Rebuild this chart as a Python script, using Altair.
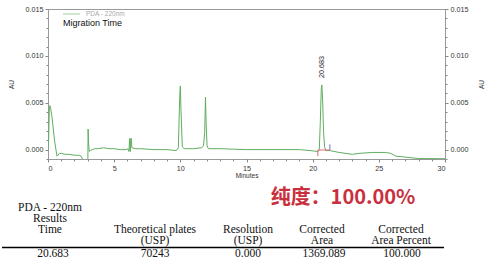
import altair as alt
import pandas as pd

# ---------------- data ----------------
TIME_MIN = [
    0.00, 0.05, 0.10, 0.14, 0.20, 0.30, 0.40, 0.50, 0.60, 0.68,
    0.75, 0.85, 1.00, 1.30, 1.60, 2.00, 2.20, 2.40, 2.50, 2.60,
    2.70, 2.90, 3.01, 3.03, 3.07, 3.12, 3.20, 3.50, 3.80, 4.20,
    4.60, 5.00, 5.50, 5.90, 6.05, 6.12, 6.16, 6.19, 6.22, 6.26,
    6.29, 6.34, 6.60, 7.00, 8.00, 9.00, 9.70, 9.85, 9.95, 10.00,
    10.05, 10.15, 10.30, 11.00, 11.60, 11.75, 11.84, 11.90, 11.95, 12.02,
    12.12, 13.00, 15.00, 17.00, 19.00, 19.80, 20.40, 20.50, 20.58, 20.65,
    20.69, 20.75, 20.82, 20.90, 21.00, 21.30, 22.00, 23.00, 23.50, 24.50,
    25.50, 25.90, 26.30, 27.00, 28.00, 30.00,
]
AU = [
    0.0000, 0.0012, 0.0042, 0.0047, 0.0044, 0.0035, 0.0022, 0.0009, 0.0000, -0.0007,
    -0.0006, -0.0004, -0.0004, -0.0005, -0.0005, -0.0006, -0.0006, -0.0006, -0.0007, -0.0010,
    -0.0013, -0.0016, -0.0016, 0.0022, 0.0006, -0.0002, -0.0001, 0.0001, 0.0001, 0.0002,
    0.0001, 0.0001, 0.0000, 0.0000, 0.0001, -0.0002, 0.0010, 0.0012, -0.0002, 0.0011,
    0.0012, 0.0002, 0.0001, 0.0001, 0.0000, 0.0000, -0.0001, 0.0002, 0.0055, 0.0068,
    0.0042, 0.0003, 0.0001, 0.0001, 0.0002, 0.0004, 0.0018, 0.0056, 0.0028, 0.0004,
    0.0001, 0.0001, 0.0000, 0.0000, 0.0000, -0.0001, -0.0002, 0.0000, 0.0030, 0.0065,
    0.0069, 0.0055, 0.0020, 0.0003, -0.0001, -0.0001, -0.0003, -0.0005, -0.0004, -0.0003,
    -0.0003, -0.0004, -0.0007, -0.0008, -0.00095, -0.00097,
]

X_MAJOR = [0, 5, 10, 15, 20, 25, 30]
X_MINOR = list(range(0, 31))
Y_MAJOR = [0.0, 0.005, 0.010, 0.015]
Y_MINOR = [-0.001, 0.0, 0.001, 0.002, 0.003, 0.004, 0.005, 0.006, 0.007, 0.008,
           0.009, 0.010, 0.011, 0.012, 0.013, 0.014, 0.015]

PEAK_TIME = [20.683]
PEAK_AU = [0.0069]
PEAK_LABEL = ["20.683"]

MARK_KIND = ["start", "start", "end"]
MARK_T1 = [20.39, 20.39, 21.30]
MARK_T2 = [20.39, 21.30, 21.30]
MARK_Y1 = [-0.00004, -0.00004, -0.00004]
MARK_Y2 = [-0.0007, -0.00004, 0.00056]

LEGEND_NAME = "PDA - 220nm"
PLOT_TITLE = "Migration Time"
PURITY = "纯度：100.00%"

TABLE_TITLE = ["PDA - 220nm", "Results"]
HEAD_1 = ["Time", "Theoretical plates", "Resolution", "Corrected", "Corrected"]
HEAD_2 = ["", "(USP)", "(USP)", "Area", "Area Percent"]
ROW_VALUES = ["20.683", "70243", "0.000", "1369.089", "100.000"]

# ---------------- layout (canvas pixels) ----------------
PL, PT, W, H = 48, 9, 397, 150
COL_X = [50, 155, 248, 322, 401]
VAL_X = [53, 155, 248, 324, 402]
ROW_Y = [208, 219, 230, 241, 254]
RULE_Y = 247.5

GREEN = "#5fae5f"
RED = "#e06a70"
BLUE = "#6f6fd6"

xs = alt.Scale(domain=[0, 30], nice=False, zero=False)
ys = alt.Scale(domain=[-0.001, 0.015], nice=False, zero=False)
PX = alt.Scale(domain=[PL, PL + W], range=[0, W], nice=False, zero=False)
PY = alt.Scale(domain=[PT, PT + H], range=[0, H], nice=False, zero=False)

trace = pd.DataFrame({"t": TIME_MIN, "au": AU})

ax_common = dict(labelFont="Liberation Sans", labelFontSize=7.2, labelColor="#333",
                 tickColor="#888", grid=False, domain=False,
                 titleFont="Liberation Sans", titleFontSize=6.5,
                 titleFontWeight="normal", titleColor="#333")

line = alt.Chart(trace).mark_line(color=GREEN, strokeWidth=1, clip=True).encode(
    x=alt.X("t:Q", scale=xs, axis=alt.Axis(orient="bottom", values=X_MAJOR, title="Minutes",
                                           tickSize=3, labelPadding=2, titlePadding=1.5,
                                           format="d", **ax_common)),
    y=alt.Y("au:Q", scale=ys, axis=alt.Axis(orient="left", values=Y_MAJOR, format=".3f",
                                            title="AU", tickSize=3, labelPadding=2,
                                            titlePadding=11, titleAngle=270, **ax_common)),
)

ghost2 = alt.Chart(trace).mark_line(strokeOpacity=0).encode(
    x=alt.X("t:Q", scale=xs, axis=alt.Axis(orient="bottom", values=X_MINOR, labels=False,
                                           title=None, tickSize=2, **ax_common)),
    y=alt.Y("au:Q", scale=ys, axis=alt.Axis(orient="right", values=Y_MAJOR, format=".3f",
                                            title="AU", tickSize=3, labelPadding=2,
                                            titlePadding=11, titleAngle=270,
                                            titleBaseline="top", **ax_common)),
)

ghost3 = alt.Chart(trace).mark_line(strokeOpacity=0).encode(
    x=alt.X("t:Q", scale=xs, axis=None),
    y=alt.Y("au:Q", scale=ys, axis=alt.Axis(orient="left", values=Y_MINOR, labels=False,
                                            title=None, tickSize=2, **ax_common)),
)

ghost4 = alt.Chart(trace).mark_line(strokeOpacity=0).encode(
    x=alt.X("t:Q", scale=xs, axis=None),
    y=alt.Y("au:Q", scale=ys, axis=alt.Axis(orient="right", values=Y_MINOR, labels=False,
                                            title=None, tickSize=2, **ax_common)),
)

markers = pd.DataFrame({"kind": MARK_KIND, "t1": MARK_T1, "t2": MARK_T2,
                        "y1": MARK_Y1, "y2": MARK_Y2})
marker_rules = alt.Chart(markers).mark_rule(strokeWidth=1).encode(
    x=alt.X("t1:Q", scale=xs, axis=None), x2="t2:Q",
    y=alt.Y("y1:Q", scale=ys, axis=None), y2="y2:Q",
    color=alt.Color("kind:N", scale=alt.Scale(domain=["start", "end"], range=[RED, BLUE]),
                    legend=None),
)

peak = pd.DataFrame({"t": PEAK_TIME, "au": PEAK_AU, "lab": PEAK_LABEL})
peak_text = alt.Chart(peak).mark_text(angle=270, align="left", baseline="middle", dx=7,
                                      font="Liberation Sans", fontSize=7.2, color="#222").encode(
    x=alt.X("t:Q", scale=xs, axis=None),
    y=alt.Y("au:Q", scale=ys, axis=None),
    text="lab:N",
)


def px_text(rows, **mark):
    df = pd.DataFrame(rows, columns=["t", "cx", "cy"])
    return alt.Chart(df).mark_text(baseline="middle", **mark).encode(
        x=alt.X("cx:Q", scale=PX, axis=None),
        y=alt.Y("cy:Q", scale=PY, axis=None),
        text="t:N",
    )


def px_rule(rows, **mark):
    df = pd.DataFrame(rows, columns=["x1", "x2", "y"])
    return alt.Chart(df).mark_rule(**mark).encode(
        x=alt.X("x1:Q", scale=PX, axis=None), x2="x2:Q",
        y=alt.Y("y:Q", scale=PY, axis=None),
    )


legend_line = px_rule([(63, 80, 14)], color="#9fd09f", strokeWidth=1)
legend_text = px_text([(LEGEND_NAME, 86, 14)], align="left", font="Liberation Sans",
                      fontSize=6.5, color="#aaaaaa")
title_text = px_text([(PLOT_TITLE, 63, 22.5)], align="left", font="Liberation Sans",
                     fontSize=9, color="#111")

purity_text = px_text([(PURITY, 343, 198)], align="center", font="Noto Sans CJK SC",
                      fontSize=20, fontWeight="bold", color="#c9303d")

table_rows = []
for i, s in enumerate(TABLE_TITLE):
    table_rows.append((s, COL_X[0], ROW_Y[i]))
for i, s in enumerate(HEAD_1):
    table_rows.append((s, COL_X[i], ROW_Y[2]))
for i, s in enumerate(HEAD_2):
    if s:
        table_rows.append((s, COL_X[i], ROW_Y[3]))
for i, s in enumerate(ROW_VALUES):
    table_rows.append((s, VAL_X[i], ROW_Y[4]))

table_text = px_text(table_rows, align="center", font="Liberation Serif",
                     fontSize=11.5, color="#111")
table_rule = px_rule([(2, 444, RULE_Y)], color="#000", strokeWidth=1.4)

chart = alt.layer(
    line, ghost2, ghost3, ghost4, marker_rules, peak_text,
    legend_line, legend_text, title_text, purity_text, table_text, table_rule,
).resolve_scale(
    x="independent", y="independent"
).resolve_axis(
    x="independent", y="independent"
).properties(
    width=W, height=H,
    autosize=alt.AutoSizeParams(type="none"),
    padding={"left": PL, "top": PT, "right": 490 - PL - W, "bottom": 266 - PT - H},
    background="white",
).configure_view(stroke="#9a9a9a", strokeWidth=1)

chart.save("out.html", embed_options={"renderer": "svg", "actions": False})
